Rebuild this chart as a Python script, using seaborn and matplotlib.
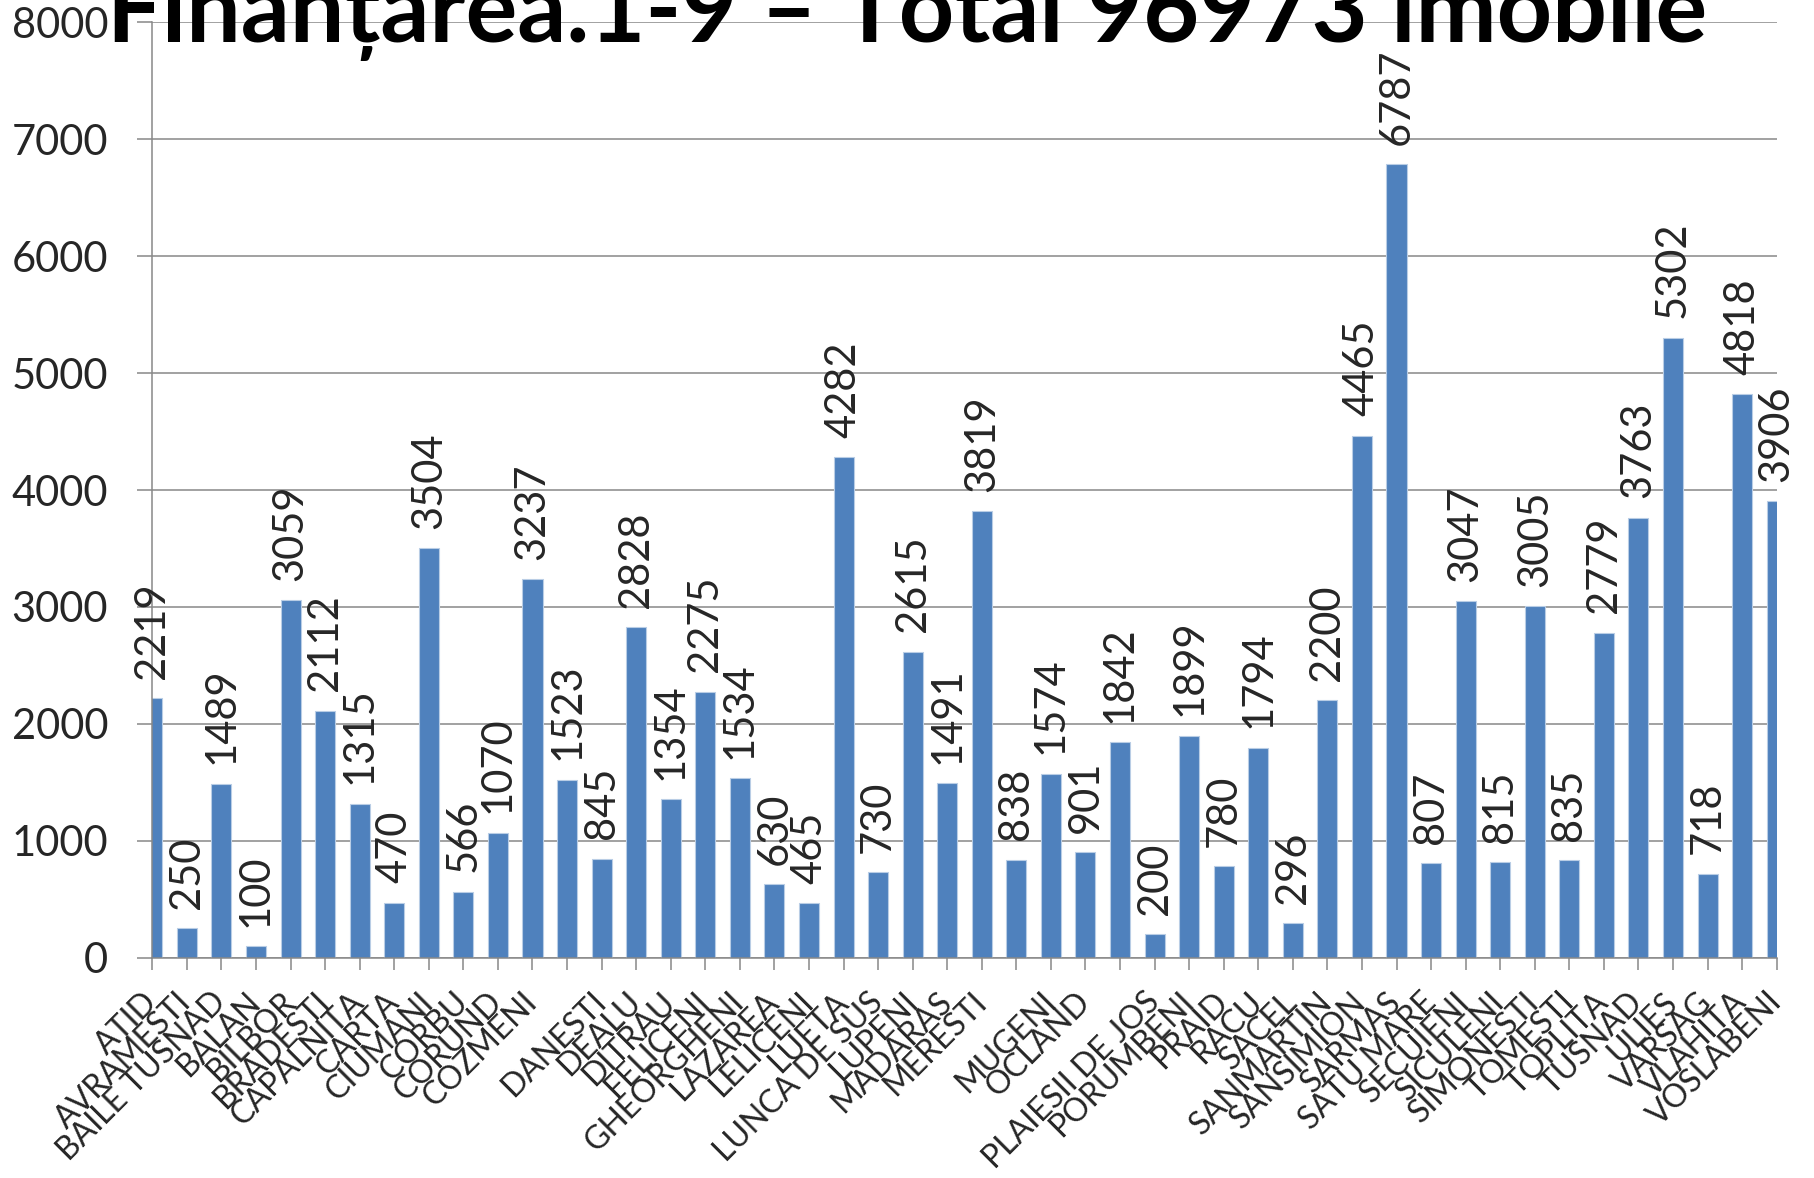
import matplotlib
matplotlib.use("Agg")
import matplotlib.pyplot as plt
import seaborn as sns

# data (blank names are missing in the original too)
localities = [
    "ATID", "AVRAMESTI", "BAILE TUSNAD", "BALAN", "BILBOR", "BRADESTI",
    "CAPALNITA", "CARTA", "CIUMANI", "CORBU", "CORUND", "COZMENI", "",
    "DANESTI", "DEALU", "DITRAU", "FELICENI", "GHEORGHENI", "LAZAREA",
    "LELICENI", "LUETA", "LUNCA DE SUS", "LUPENI", "MADARAS", "MERESTI", "",
    "MUGENI", "OCLAND", "", "PLAIESII DE JOS", "PORUMBENI", "PRAID", "RACU",
    "SACEL", "SANMARTIN", "SANSIMION", "SARMAS", "SATU MARE", "SECUIENI",
    "SICULENI", "SIMONESTI", "TOMESTI", "TOPLITA", "TUSNAD", "ULIES",
    "VARSAG", "VLAHITA", "VOSLABENI",
]
imobile = [
    2219, 250, 1489, 100, 3059, 2112, 1315, 470, 3504, 566, 1070, 3237, 1523,
    845, 2828, 1354, 2275, 1534, 630, 465, 4282, 730, 2615, 1491, 3819, 838,
    1574, 901, 1842, 200, 1899, 780, 1794, 296, 2200, 4465, 6787, 807, 3047,
    815, 3005, 835, 2779, 3763, 5302, 718, 4818, 3906,
]
y_ticks = [0, 1000, 2000, 3000, 4000, 5000, 6000, 7000, 8000]
title = "Finanțarea.1-9 – Total 96973 imobile"

BAR_COLOR = "#4F81BD"
GRID_COLOR = "#888888"

sns.set_theme(style="white")
plt.rcParams["font.family"] = ["Lato", "DejaVu Sans"]

W, H = 1815, 1178
fig = plt.figure(figsize=(W / 100, H / 100), dpi=100)
left, right, top, bottom = 152.3, 1776.7, 22.3, 957.7
ax = fig.add_axes([left / W, 1 - bottom / H, (right - left) / W, (bottom - top) / H])

positions = list(range(len(imobile)))
sns.barplot(x=positions, y=imobile, color=BAR_COLOR, saturation=1, width=0.58,
            edgecolor="#B9CDE5", linewidth=0.8, ax=ax)

ax.set_xlim(0, len(imobile) - 1)
ax.set_ylim(0, 8000)
ax.set_yticks(y_ticks)
ax.set_yticklabels([str(t) for t in y_ticks], fontsize=30)
ax.set_xticks(positions)
ax.set_xticklabels(localities, rotation=45, ha="right", rotation_mode="anchor", fontsize=23)
for lab in ax.get_xticklabels():
    lab.set_va("center")

ax.set_xlabel("")
ax.set_ylabel("")
ax.yaxis.grid(True, color=GRID_COLOR, linewidth=1.1)
ax.set_axisbelow(True)
for side in ["top", "right"]:
    ax.spines[side].set_visible(False)
for side in ["left", "bottom"]:
    ax.spines[side].set_color(GRID_COLOR)
    ax.spines[side].set_linewidth(1.1)
ax.tick_params(axis="x", bottom=True, length=8.6, width=1.1, color=GRID_COLOR, pad=20)
ax.tick_params(axis="y", left=True, length=10.8, width=1.1, color=GRID_COLOR, pad=21)

ax.bar_label(ax.containers[0], labels=[str(v) for v in imobile], rotation=90,
             padding=14, fontsize=30, annotation_clip=False)

# title, scaled to the width it has in the original
t = fig.text(0.5, 1 - 42 / H, title, ha="center", va="baseline",
             fontweight="bold", fontsize=80, color="black")
renderer = fig.canvas.get_renderer()
for _ in range(3):
    w = t.get_window_extent(renderer).width
    t.set_fontsize(t.get_fontsize() * 1600 / w)

fig.savefig("out.png", dpi=100)
